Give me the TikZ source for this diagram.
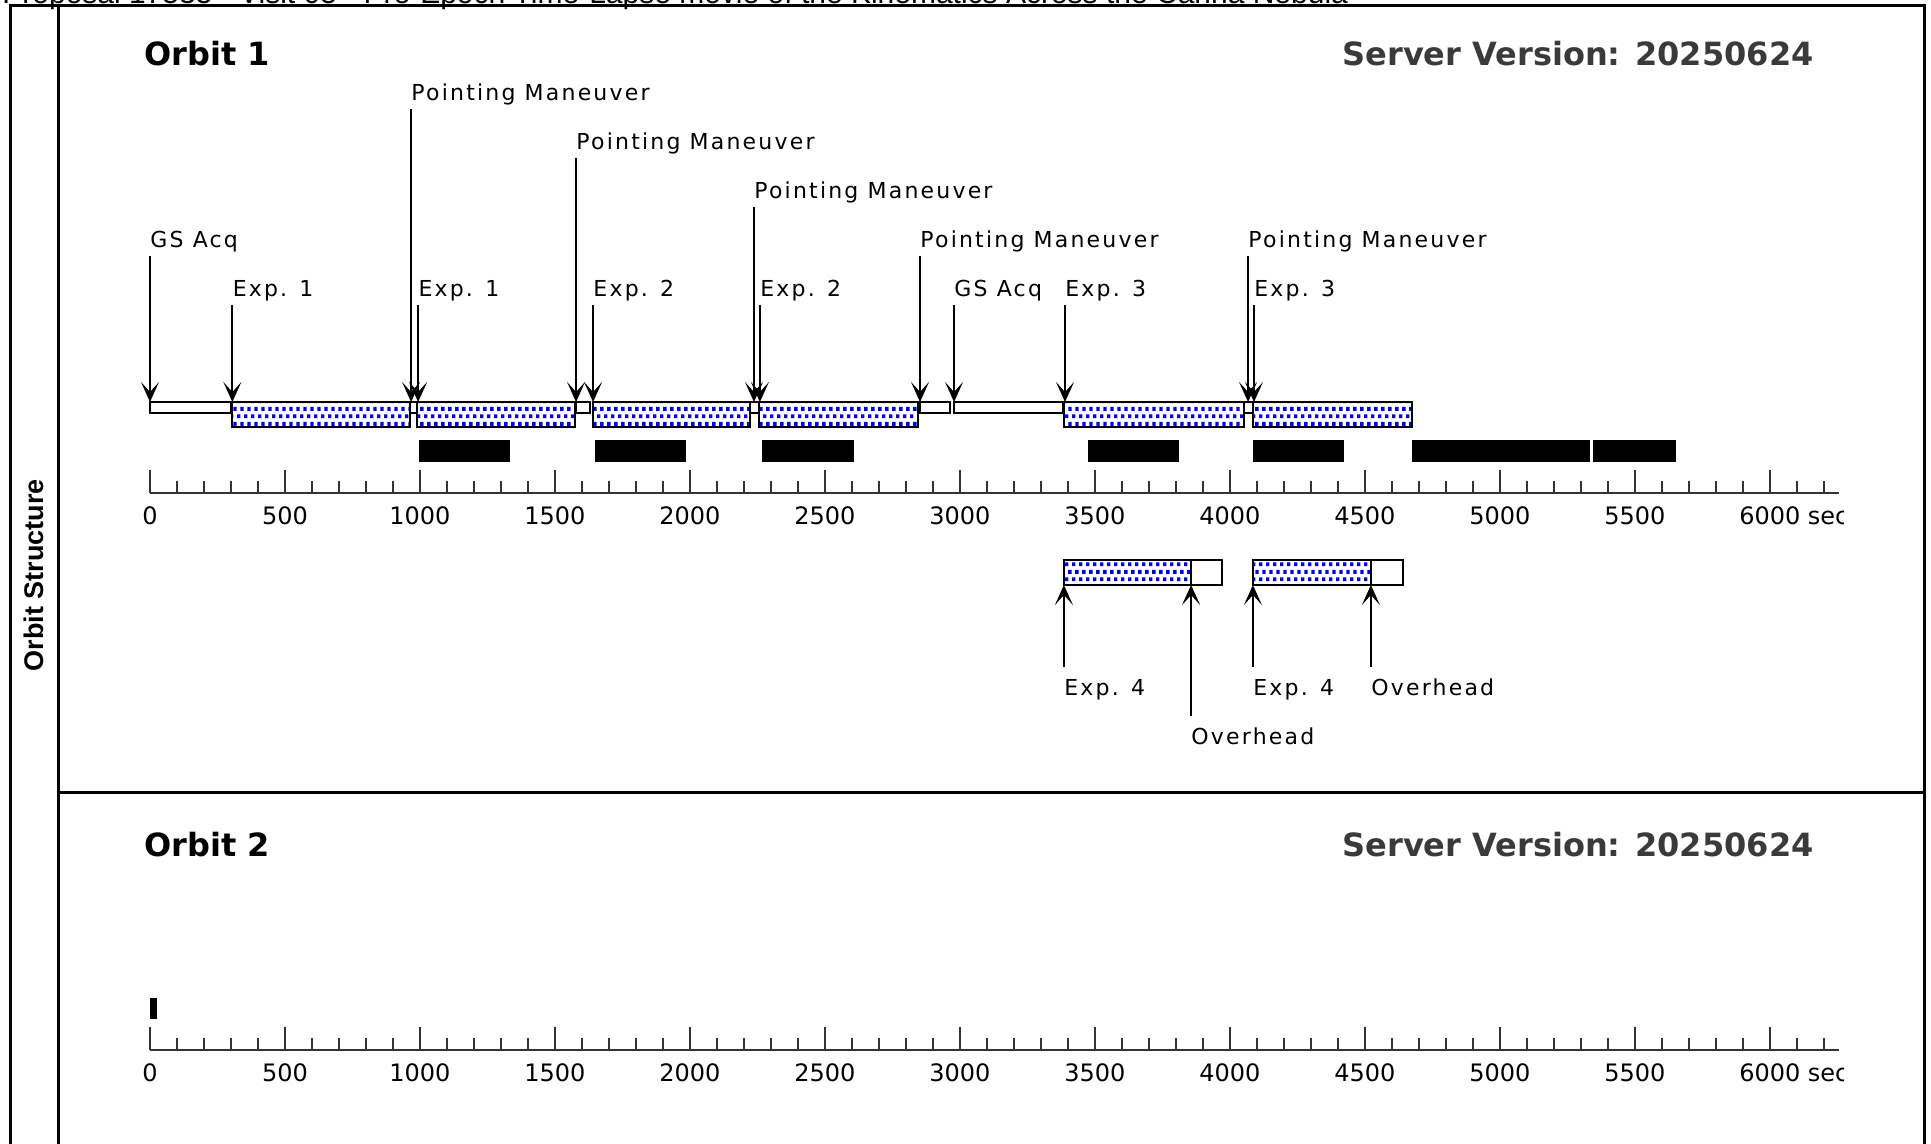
\documentclass[tikz,border=0pt]{standalone}
\usepackage{fontspec}
\setmainfont{DejaVu Sans}
\newfontfamily\lblfont[LetterSpace=10]{DejaVu Sans}
\newfontfamily\headfont{Liberation Sans}
\usetikzlibrary{arrows.meta,patterns}
\definecolor{dotblue}{HTML}{0000FF}
\definecolor{servergray}{HTML}{3A3A3A}

\pgfdeclarepatternformonly{bluedots}{\pgfqpoint{0pt}{0pt}}{\pgfqpoint{3.6pt}{7.4pt}}{\pgfqpoint{3.6pt}{7.4pt}}{%
  \pgfpathrectangle{\pgfqpoint{0pt}{0.4pt}}{\pgfqpoint{1.9pt}{1.9pt}}%
  \pgfpathrectangle{\pgfqpoint{1.8pt}{4.1pt}}{\pgfqpoint{1.9pt}{1.9pt}}%
  \pgfusepath{fill}%
}

\tikzset{
  panelframe/.style={line width=1.5pt},
  expbar/.style={preaction={fill=white}, pattern=bluedots, pattern color=dotblue, draw=black, line width=1pt},
  ohbar/.style={fill=white, draw=black, line width=1pt},
  busybar/.style={fill=black},
  evlabel/.style={font=\lblfont\fontsize{11}{13}\selectfont, inner sep=0pt, anchor=base west},
  evarrow/.style={line width=0.9pt, -{Stealth[length=10pt,width=9pt,inset=5pt]}},
  axisline/.style={line width=0.8pt, black!80},
  ticklabel/.style={font=\fontsize{12}{14}\selectfont, inner sep=0pt, anchor=base},
  orbittitle/.style={font=\bfseries\fontsize{16}{19}\selectfont, inner sep=0pt},
}

\begin{document}
\begin{tikzpicture}[x=0.5pt,y=-0.5pt]
\useasboundingbox (0,0) rectangle (1931,1144);

% heading, cut by the page edge
\node[anchor=base west, inner sep=0pt, font=\headfont\fontsize{15}{18}\selectfont] (heading) at (2,4) {Proposal 17535 - Visit 05 - Pre-Epoch Time-Lapse movie of the Kinematics Across the Carina Nebula};

% panels
\draw[panelframe] (10,1160) -- (10,6) -- (1924,6) -- (1924,1160);
\draw[panelframe] (58,6) -- (58,1160);
\draw[panelframe] (58,792) -- (1924,792);
\node[rotate=90, font=\headfont\bfseries\fontsize{13.5}{16}\selectfont] (side) at (34,575) {Orbit Structure};

\foreach \o/\ty in {1/66,2/856}{
  \node[orbittitle, anchor=base west] (orbit\o) at (144,\ty) {Orbit \o};
  \node[orbittitle, anchor=base east, servergray] (server\o) at (1814,\ty) {Server Version: 20250624};
}

% timeline, x in seconds
\begin{scope}[xshift=75pt, x=0.135pt]
  \foreach \a/\b in {0/300,963/989,1578/1630,2222/2257,2852/2963,2978/3381,4052/4085}
    \draw[ohbar] (\a,402) rectangle (\b,413);
  \foreach \a/\b in {305/963,989/1574,1641/2222,2257/2844,3385/4052,4085/4674}
    \draw[expbar] (\a,402) rectangle (\b,427);
  \foreach \a/\b in {3385/3856,4085/4522}
    \draw[expbar] (\a,560) rectangle (\b,585);
  \foreach \a/\b in {3856/3970,4522/4641}
    \draw[ohbar] (\a,560) rectangle (\b,585);
  % busy blocks
  \foreach \a/\b in {996/1333,1648/1985,2267/2607,3474/3811,4085/4422,4674/5333,5344/5652}
    \fill[busybar] (\a,440) rectangle (\b,462);
  \fill[busybar] (0,998) rectangle (26,1019);

  % events above the bars
  \foreach \t/\ly/\txt/\nm in {0/248/GS Acq/gsa,305/297/Exp. 1/expa,967/101/Pointing Maneuver/pma,
      993/297/Exp. 1/expb,1578/150/Pointing Maneuver/pmb,1641/297/Exp. 2/expc,
      2237/199/Pointing Maneuver/pmc,2259/297/Exp. 2/expd,2852/248/Pointing Maneuver/pmd,
      2978/297/GS Acq/gsb,3389/297/Exp. 3/expe,4067/248/Pointing Maneuver/pme,4089/297/Exp. 3/expf}{
    \coordinate (\nm-tip) at (\t,402);
    \node[evlabel] (\nm) at (\t,\ly) {\txt};
    \draw[evarrow] ([yshift=-4pt]\nm.base west) -- (\nm-tip);
  }
  % events below the bars
  \foreach \t/\ly/\txt/\nm in {3385/695/Exp. 4/expg,3856/744/Overhead/oha,4085/695/Exp. 4/exph,4522/695/Overhead/ohb}{
    \coordinate (\nm-tip) at (\t,585);
    \node[evlabel] (\nm) at (\t,\ly) {\txt};
    \draw[evarrow] ([yshift=14pt]\nm.base west) -- (\nm-tip);
  }
\end{scope}

% axes
\begin{scope}
  \clip (0,0) rectangle (1843,1144);
  \begin{scope}[xshift=75pt, x=0.135pt]
    \foreach \o/\ay in {1/493,2/1050}{
      \foreach \t in {0,100,...,6200}
        \draw[axisline] (\t,\ay) -- (\t,{\ay-12});
      \foreach \t in {0,500,...,6000}
        \draw[axisline] (\t,\ay) -- (\t,{\ay-23});
      \draw[axisline] (0,\ay) -- (6255,\ay);
      \foreach \t in {0,500,...,5500}
        \node[ticklabel] (ax\o-\t) at (\t,{\ay+31}) {\t};
      \node[ticklabel, anchor=base west] (ax\o-6000) at (5885,{\ay+31}) {6000 sec};
    }
  \end{scope}
\end{scope}
\end{tikzpicture}
\end{document}
